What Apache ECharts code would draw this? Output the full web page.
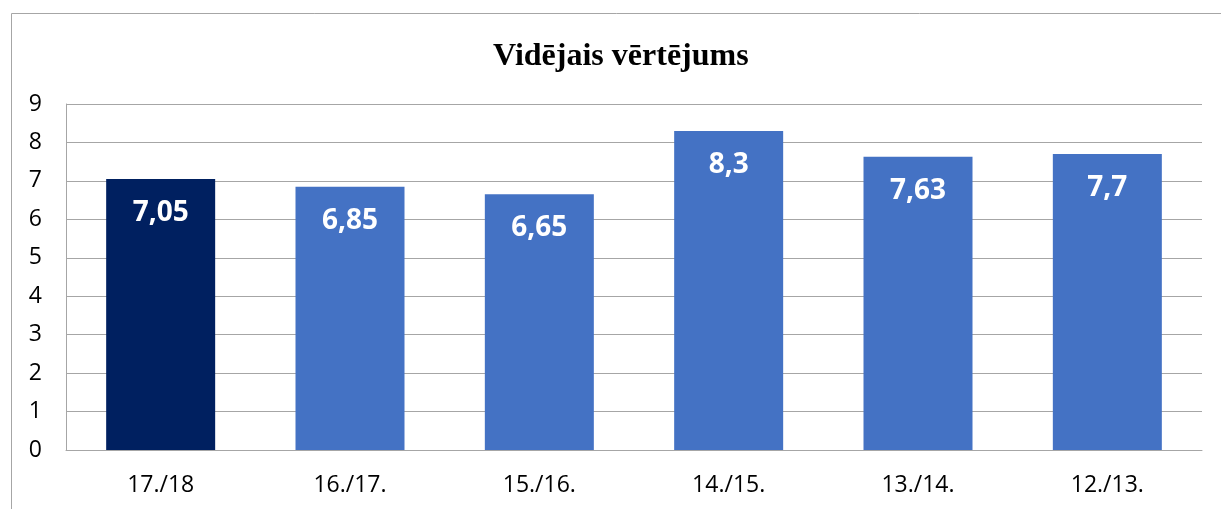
<!DOCTYPE html>
<html lang="lv">
<head>
    <meta charset="utf-8">
    <title>Vidējais vērtējums</title>
    <script src="https://cdn.jsdelivr.net/npm/echarts@6/dist/echarts.min.js"></script>
    <style>
        html, body { margin: 0; height: 100%; background: #fff; }
        #bar { width: 1221px; height: 509px; }
    </style>
</head>
<body>
    <div id="bar"></div>
    <script>
        // dati no attēla
        var categories = ['17./18', '16./17.', '15./16.', '14./15.', '13./14.', '12./13.'];
        var values = [7.05, 6.85, 6.65, 8.3, 7.63, 7.7];
        var barColors = ['#002060', '#4472C4', '#4472C4', '#4472C4', '#4472C4', '#4472C4'];
        var yTicks = [0, 1, 2, 3, 4, 5, 6, 7, 8, 9];

        var chart = echarts.init(document.getElementById('bar'), null, { renderer: 'canvas' });

        var option = {
            animation: false,
            title: {
                text: 'Vidējais vērtējums',
                left: 488,
                top: 36,
                textStyle: {
                    fontFamily: 'Liberation Serif',
                    fontWeight: 'bold',
                    fontSize: 32,
                    color: '#000'
                }
            },
            graphic: [{
                type: 'rect',
                silent: true,
                shape: { x: 11.5, y: 13.5, width: 1400, height: 700 },
                style: { fill: 'none', stroke: '#a6a6a6', lineWidth: 1 }
            }],
            grid: { left: 66, right: 19, top: 104, bottom: 59 },
            xAxis: {
                type: 'category',
                data: categories,
                axisLine: { lineStyle: { color: '#a6a6a6' } },
                axisTick: { show: false },
                axisLabel: {
                    fontFamily: 'Open Sans',
                    fontSize: 23,
                    color: '#000',
                    margin: 24
                }
            },
            yAxis: {
                type: 'value',
                min: yTicks[0],
                max: yTicks[yTicks.length - 1],
                interval: 1,
                axisLine: { show: true, lineStyle: { color: '#a6a6a6' } },
                axisTick: { show: false },
                splitLine: { lineStyle: { color: '#a6a6a6' } },
                axisLabel: {
                    fontFamily: 'Open Sans',
                    fontSize: 23,
                    color: '#000',
                    margin: 24
                }
            },
            series: [{
                type: 'bar',
                barWidth: 109,
                data: values.map(function (v, i) {
                    return { value: v, itemStyle: { color: barColors[i] } };
                }),
                label: {
                    show: true,
                    position: 'insideTop',
                    distance: 20,
                    fontFamily: 'Open Sans',
                    fontWeight: 'bold',
                    fontSize: 28,
                    color: '#fff',
                    formatter: function (p) {
                        return String(p.value).replace('.', ',');
                    }
                }
            }]
        };

        chart.setOption(option);
    </script>
</body>
</html>
